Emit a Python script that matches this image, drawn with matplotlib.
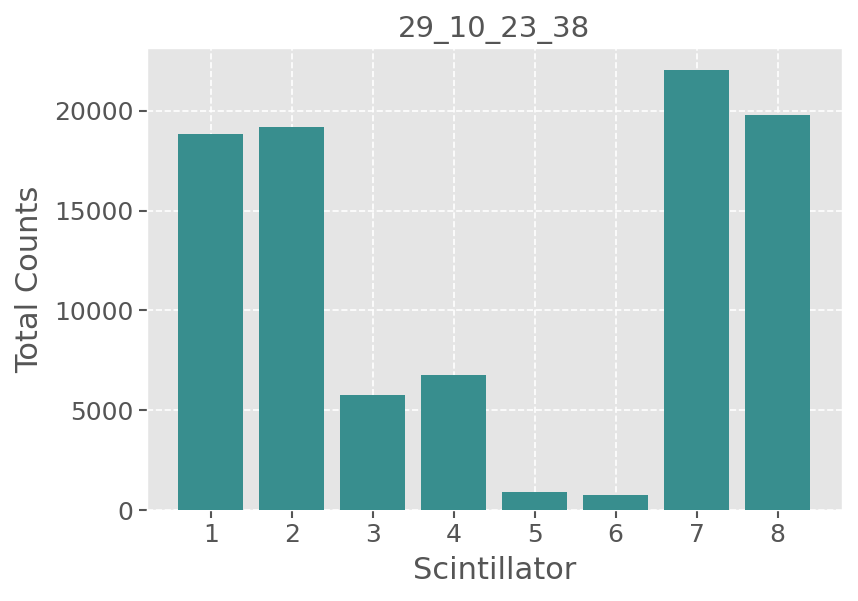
import matplotlib
matplotlib.use("Agg")
import matplotlib.pyplot as plt

# Datos
scintillators = [1, 2, 3, 4, 5, 6, 7, 8]
total_counts = [18820, 19170, 5750, 6760, 900, 750, 22030, 19775]
title = "29_10_23_38"

plt.style.use("ggplot")

fig = plt.figure(figsize=(8.58, 6.01), dpi=100)
ax = fig.add_axes([0.171, 0.151, 0.81, 0.769])

ax.bar(scintillators, total_counts, color="#388E8E", width=0.8, zorder=3)
ax.grid(True, color="white", linestyle="--", linewidth=1.2, zorder=0)
ax.set_axisbelow(True)

ax.set_xticks(scintillators)
ax.set_title(title, fontsize=21, color="#555555", pad=8)
ax.set_xlabel("Scintillator", fontsize=22, color="#555555", labelpad=6)
ax.set_ylabel("Total Counts", fontsize=22, color="#555555", labelpad=7)
ax.tick_params(axis="both", labelsize=18, labelcolor="#555555", colors="#555555",
               length=6, width=1.5)

plt.savefig("out.png", dpi=100)
